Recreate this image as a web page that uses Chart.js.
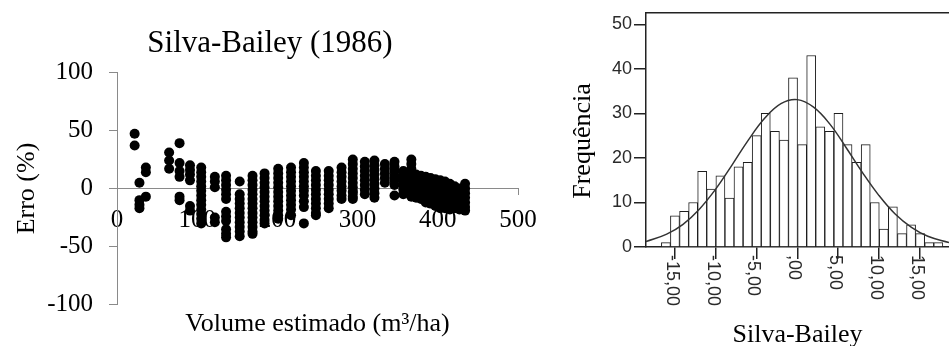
<!DOCTYPE html>
<html>
<head>
<meta charset="utf-8">
<script src="https://cdn.jsdelivr.net/npm/chart.js"></script>
<style>
  body { margin: 0; background: #fff; }
  #left { position: absolute; left: 0; top: 0; }
  #right { position: absolute; left: 540px; top: 0; }
</style>
</head>
<body>
<canvas id="left" width="540" height="346"></canvas>
<canvas id="right" width="409" height="346"></canvas>
<script>
// left: residuals of Silva-Bailey (1986), one column of points per volume
var volumes = [22, 28, 36, 65, 78, 91, 105, 122, 136, 153, 169, 184, 201, 217, 233, 248, 264, 280, 294, 309, 321, 334, 346, 357, 367,
               373, 379, 385, 391, 397, 403, 409, 415, 421, 427, 434];
var erros = [
  [47, 37],
  [5, -10, -14, -17],
  [18, 14, -7],
  [31, 24, 17],
  [39, 22, 15, 10, -7, -10],
  [20, 16, 12, 7, -15, -19],
  [18, 14, 10, 6, 2, -2, -6, -10, -14, -18, -22, -26, -30],
  [10, 6, 1, -25, -29],
  [11, 7, 3, -1, -5, -9, -20, -24, -28, -35, -39, -42],
  [6, -5, -9, -13, -17, -21, -25, -29, -33, -37, -41],
  [11, 7, 3, -1, -5, -9, -13, -17, -21, -25, -29, -33, -37, -39],
  [13, 9, 5, 1, -3, -7, -11, -15, -19, -23, -27, -30],
  [17, 13, 9, 5, 1, -3, -7, -11, -15, -19, -23, -26],
  [18, 14, 10, 6, 2, -2, -6, -10, -14, -18, -23],
  [22, 18, 14, 10, 6, 2, -2, -6, -11, -16, -30],
  [15, 11, 7, 3, -1, -5, -9, -13, -17, -21, -23],
  [15, 11, 7, 3, -1, -5, -9, -13, -17],
  [18, 14, 10, 6, 2, -2, -6, -9],
  [25, 21, 17, 13, 9, 5, 1, -3, -7, -9],
  [23, 19, 15, 11, 7, 3, -1, -5],
  [24, 20, 16, 12, 8, 4, 0, -4, -8],
  [21, 17, 13, 9, 5],
  [23, 19, 15, 11, 7, 3, -6],
  [15, 11, 7, 3, -1, -5],
  [25, 21, 17, 13, 9, 5, 1, -3, -7],
  [12, 8, 4, 0, -4, -8],
  [11, 7, 3, -1, -5, -9],
  [10, 6, 2, -2, -6, -10, -12],
  [9, 5, 1, -3, -7, -11, -13],
  [8, 4, 0, -4, -8, -12, -15],
  [7, 3, -1, -5, -9, -13, -17],
  [6, 2, -2, -6, -10, -14, -17],
  [4, 0, -4, -8, -12, -16, -18],
  [2, -2, -6, -10, -14, -17],
  [0, -4, -8, -12, -16, -18],
  [4, 0, -4, -8, -12, -16, -19]
];

// right: histogram of the errors with the normal curve
var binCenters = [-16.10, -14.99, -13.87, -12.76, -11.65, -10.54, -9.42, -8.31, -7.20, -6.08, -4.97, -3.86, -2.74, -1.63, -0.52,
                  0.60, 1.71, 2.82, 3.93, 5.05, 6.16, 7.27, 8.39, 9.50, 10.61, 11.72, 12.84, 13.95, 15.06, 16.18, 17.29];
var frequencias = [1, 7, 8, 10, 17, 13, 16, 11, 18, 19, 25, 30, 26, 24, 38, 23, 43, 27, 26, 30, 23, 19, 23, 10, 4, 9, 3, 5, 3, 1, 1];
var curveX = [-18.54, -16, -14, -12, -10, -8, -6, -4, -2, 0, 2, 4, 6, 8, 10, 12, 14, 16, 18.6];
var curveY = [1.2, 2.9, 5.1, 8.5, 13.0, 18.4, 24.0, 28.9, 32.2, 33.1, 31.4, 27.6, 22.3, 16.7, 11.6, 7.4, 4.4, 2.4, 1.0];
var histTicks = [-15, -10, -5, 0, 5, 10, 15];
var histTickLabels = ['-15,00', '-10,00', '-5,00', ',00', '5,00', '10,00', '15,00'];
var freqTicks = [0, 10, 20, 30, 40, 50];

var serif = "'Liberation Serif', 'Times New Roman', serif";
var sans = "'Liberation Sans', Arial, sans-serif";
var axisGray = '#8a8a8a';
var dark = '#222';

var pts = [];
for (var i = 0; i < volumes.length; i++) {
  for (var j = 0; j < erros[i].length; j++) {
    pts.push({ x: volumes[i], y: erros[i][j] });
  }
}

new Chart(document.getElementById('left'), {
  type: 'scatter',
  data: {
    datasets: [{ data: pts, backgroundColor: '#000', borderWidth: 0, pointRadius: 5 }]
  },
  options: {
    responsive: false,
    animation: false,
    layout: { padding: 0 },
    plugins: {
      legend: { display: false },
      tooltip: { enabled: false },
      title: {
        display: true, text: 'Silva-Bailey (1986)', color: '#000',
        font: { family: serif, size: 31, weight: 'normal' },
        padding: { top: 25, bottom: 10 }
      },
      subtitle: {
        display: true, position: 'bottom', fullSize: false, text: 'Volume estimado (m³/ha)', color: '#000',
        font: { family: serif, size: 26, weight: 'normal' },
        padding: { top: 4, bottom: 6 }
      }
    },
    scales: {
      x: {
        type: 'linear', position: { y: 0 }, min: 0, max: 500,
        ticks: { stepSize: 100, color: '#000', font: { family: serif, size: 25 }, padding: 11, maxRotation: 0 },
        grid: { drawOnChartArea: false, tickLength: 6, color: axisGray },
        border: { color: axisGray },
        afterFit: function(s) { s.height = 0; s.paddingLeft = 0; s.paddingRight = 22; }
      },
      y: {
        min: -100, max: 100,
        ticks: { stepSize: 50, color: '#000', font: { family: serif, size: 25 }, padding: 16 },
        grid: { drawOnChartArea: false, tickLength: 8, color: axisGray },
        border: { color: axisGray },
        title: { display: true, text: 'Erro (%)', color: '#000', font: { family: serif, size: 26 }, padding: { top: 12, bottom: 0 } },
        afterFit: function(s) { s.width = 117; }
      }
    }
  }
});

// frame top line, rotated x labels and the y title (SPSS puts it a bit lower than the centre)
var histExtras = {
  id: 'histExtras',
  afterDraw: function(chart) {
    var ctx = chart.ctx, a = chart.chartArea, sx = chart.scales.x;
    ctx.save();
    ctx.strokeStyle = dark;
    ctx.lineWidth = 1.5;
    ctx.beginPath();
    ctx.moveTo(a.left, a.top);
    ctx.lineTo(a.right, a.top);
    ctx.stroke();
    ctx.fillStyle = '#2a2a2a';
    ctx.font = '18px ' + sans;
    ctx.textAlign = 'left';
    ctx.textBaseline = 'middle';
    for (var k = 0; k < histTicks.length; k++) {
      var px = sx.getPixelForValue(histTicks[k]);
      ctx.save();
      ctx.translate(px - 3, a.bottom + 8);
      ctx.rotate(Math.PI / 2);
      ctx.fillText(histTickLabels[k], 0, 0);
      ctx.restore();
    }
    ctx.fillStyle = '#000';
    ctx.font = '26px ' + serif;
    ctx.textAlign = 'center';
    ctx.translate(43, 141);
    ctx.rotate(-Math.PI / 2);
    ctx.fillText('Frequência', 0, 0);
    ctx.restore();
  }
};

var bars = binCenters.map(function(c, i) { return { x: c, y: frequencias[i] }; });
var curve = curveX.map(function(c, i) { return { x: c, y: curveY[i] }; });

new Chart(document.getElementById('right'), {
  type: 'bar',
  data: {
    datasets: [
      { type: 'line', data: curve, borderColor: '#333', borderWidth: 1.5, pointRadius: 0, tension: 0.4, fill: false },
      { type: 'bar', data: bars, backgroundColor: '#fff', borderColor: '#1e1e1e', borderWidth: 1,
        barPercentage: 1, categoryPercentage: 1 }
    ]
  },
  options: {
    responsive: false,
    animation: false,
    layout: { padding: { top: 11, right: 0, bottom: 0, left: 0 } },
    plugins: { legend: { display: false }, tooltip: { enabled: false } },
    scales: {
      x: {
        type: 'linear', min: -18.54, max: 18.6, offset: false,
        afterBuildTicks: function(s) { s.ticks = histTicks.map(function(v) { return { value: v }; }); },
        ticks: { display: false },
        grid: { offset: false, drawOnChartArea: false, tickLength: 12, color: dark, lineWidth: 1.5 },
        border: { color: dark, width: 1.5 },
        title: { display: true, text: 'Silva-Bailey', color: '#000', font: { family: serif, size: 26 }, padding: { top: 0, bottom: -5 } },
        afterFit: function(s) { s.height = 99; s.paddingLeft = 0; s.paddingRight = 0; }
      },
      y: {
        min: 0, max: 52.6,
        afterBuildTicks: function(s) { s.ticks = freqTicks.map(function(v) { return { value: v }; }); },
        ticks: { color: '#2a2a2a', font: { family: sans, size: 18 }, padding: 2 },
        grid: { drawOnChartArea: false, tickLength: 12, color: dark, lineWidth: 1.5 },
        border: { color: dark, width: 1.5 },
        afterFit: function(s) { s.width = 106; }
      }
    }
  },
  plugins: [histExtras]
});
</script>
</body>
</html>
